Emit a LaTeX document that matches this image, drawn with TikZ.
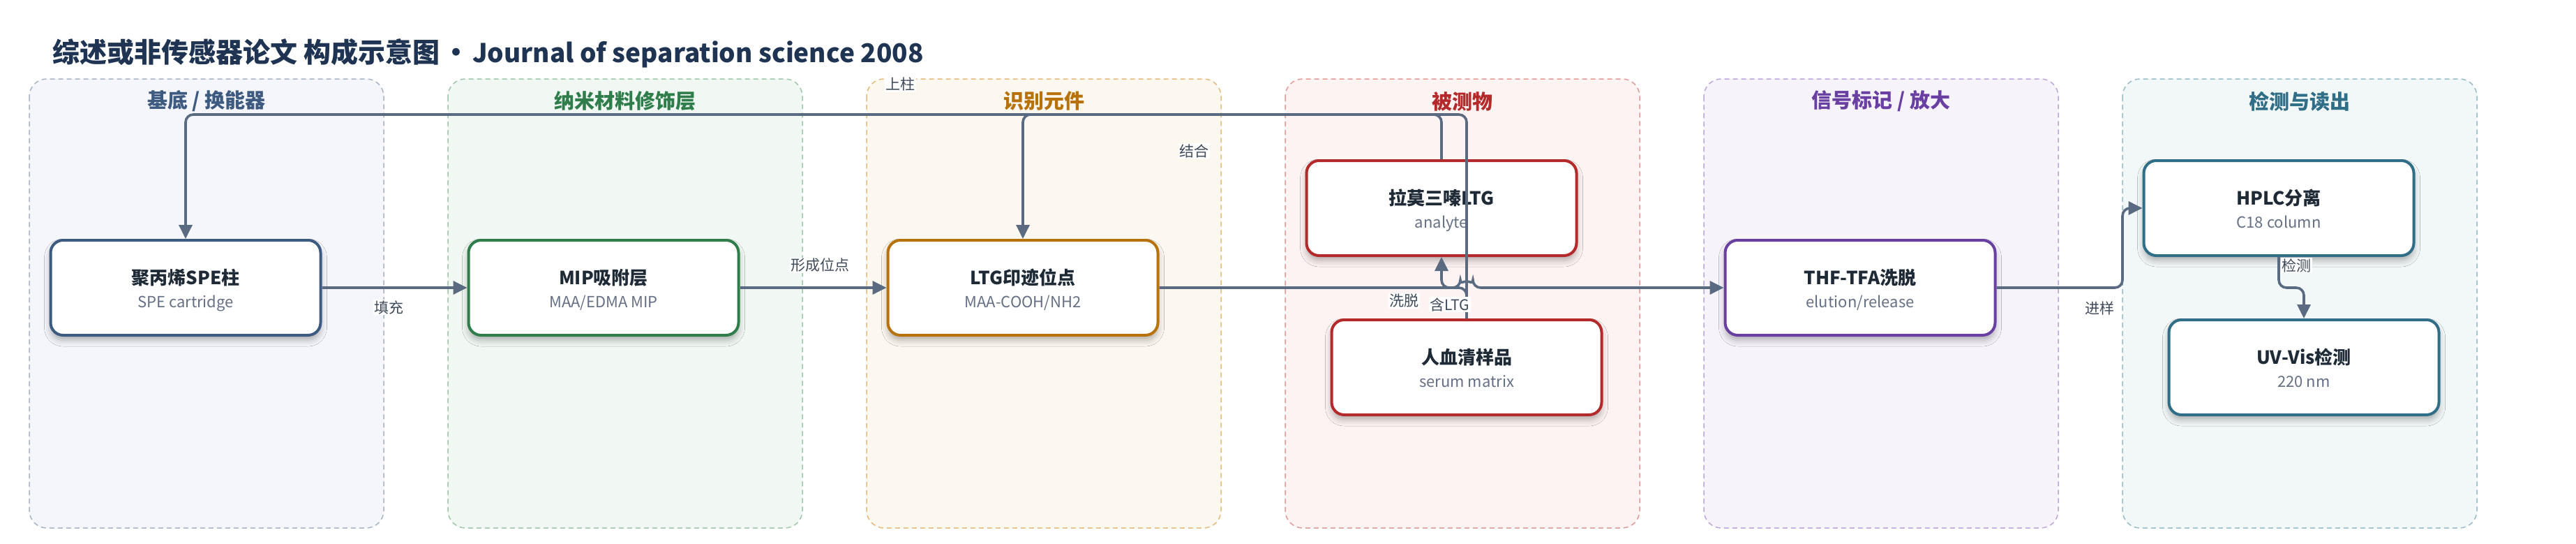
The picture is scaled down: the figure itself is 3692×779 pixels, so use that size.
\documentclass[tikz,border=0pt]{standalone}
\usepackage{fontspec}
\setmainfont{Noto Sans CJK SC}
\usetikzlibrary{arrows.meta,calc,shadows.blur}
\definecolor{titlec}{HTML}{1E3452}
\definecolor{edgec}{HTML}{5A6A80}
\definecolor{labc}{HTML}{3F4A5A}
\definecolor{nodet}{HTML}{1F2A37}
\definecolor{subc}{HTML}{667085}
\definecolor{fA}{HTML}{F4F6FB}\definecolor{bA}{HTML}{A7B4C8}\definecolor{tA}{HTML}{3D5A80}
\definecolor{fB}{HTML}{F1F8F3}\definecolor{bB}{HTML}{9DC7A9}\definecolor{tB}{HTML}{2E7D4A}
\definecolor{fC}{HTML}{FDF8EF}\definecolor{bC}{HTML}{E4BB7A}\definecolor{tC}{HTML}{B7720B}
\definecolor{fD}{HTML}{FDF3F2}\definecolor{bD}{HTML}{E39A96}\definecolor{tD}{HTML}{B42A2A}
\definecolor{fE}{HTML}{F7F3FB}\definecolor{bE}{HTML}{BDA6DC}\definecolor{tE}{HTML}{6A3FA2}
\definecolor{fF}{HTML}{F2F7F8}\definecolor{bF}{HTML}{97BCC9}\definecolor{tF}{HTML}{2F6E86}
\newcommand{\mkbox}[6]{%
  \node[box, draw=#4] (#1) at (#2,#3) {};
  \node[boxtitle, anchor=base] (#1-t) at ($(#1.center)+(0,-5)$) {#5};
  \node[boxsub, anchor=base] (#1-s) at ($(#1.center)+(0,28)$) {#6};
}
\begin{document}
\begin{tikzpicture}[x=1pt,y=-1pt,
  lane/.style={line width=1.5pt, dash pattern=on 7pt off 5pt, rounded corners=25pt},
  lanetitle/.style={font=\fontsize{29}{34}\selectfont\bfseries, inner sep=0pt},
  box/.style={line width=4pt, rounded corners=18pt, fill=white, minimum width=387pt, minimum height=136pt, inner sep=0pt,
    blur shadow={shadow xshift=0pt, shadow yshift=-7pt, shadow blur radius=9pt, shadow opacity=30}},
  boxtitle/.style={font=\fontsize{26}{30}\selectfont\bfseries, text=nodet, inner sep=0pt},
  boxsub/.style={font=\fontsize{22}{26}\selectfont, text=subc, inner sep=0pt},
  conn/.style={draw=edgec, line width=3.6pt, rounded corners=11pt, -{Triangle[length=20pt,width=19pt]}},
  lbl/.style={fill=white, inner sep=1.5pt, text=labc, font=\fontsize{21}{24}\selectfont}]
\useasboundingbox (0,0) rectangle (3692,779);
\fill[white] (0,0) rectangle (3692,779);

\node[anchor=base west, text=titlec, inner sep=0pt, font=\fontsize{39}{45}\selectfont\bfseries] (title) at (75,89)
  {综述或非传感器论文 构成示意图\hspace{4pt}·\hspace{4pt}{\fontsize{37}{45}\selectfont Journal of separation science 2008}};

% lanes
\draw[lane, fill=fA, draw=bA] (42,113) rectangle (550,756);
\draw[lane, fill=fB, draw=bB] (642,113) rectangle (1150,756);
\draw[lane, fill=fC, draw=bC] (1242,113) rectangle (1750,756);
\draw[lane, fill=fD, draw=bD] (1842,113) rectangle (2350,756);
\draw[lane, fill=fE, draw=bE] (2442,113) rectangle (2950,756);
\draw[lane, fill=fF, draw=bF] (3042,113) rectangle (3550,756);
\node[lanetitle, text=tA] (laneA) at (296,145) {基底 / 换能器};
\node[lanetitle, text=tB] (laneB) at (896,145) {纳米材料修饰层};
\node[lanetitle, text=tC] (laneC) at (1496,145) {识别元件};
\node[lanetitle, text=tD] (laneD) at (2096,145) {被测物};
\node[lanetitle, text=tE] (laneE) at (2696,145) {信号标记 / 放大};
\node[lanetitle, text=tF] (laneF) at (3296,145) {检测与读出};

% boxes
\mkbox{spe}{266}{412}{tA}{聚丙烯SPE柱}{SPE cartridge}
\mkbox{mip}{865}{412}{tB}{MIP吸附层}{MAA/EDMA MIP}
\mkbox{ltg}{1466}{412}{tC}{LTG印迹位点}{MAA-COOH/NH2}
\mkbox{ana}{2066}{298}{tD}{拉莫三嗪LTG}{analyte}
\mkbox{serum}{2102}{526}{tD}{人血清样品}{serum matrix}
\mkbox{thf}{2666}{412}{tE}{THF-TFA洗脱}{elution/release}
\mkbox{hplc}{3266}{298}{tF}{HPLC分离}{C18 column}
\mkbox{uv}{3302}{526}{tF}{UV-Vis检测}{220 nm}

% helper coordinates
\coordinate (toprow) at (0,164);
\coordinate (midrow) at (0,412);
\coordinate (hopc) at (2102,412);
\coordinate (jogx) at (3042,0);

% connectors
\draw[conn] (spe.east) -- (mip.west);
\draw[conn] (mip.east) -- (ltg.west);
\draw[conn] (ltg.east) -- ($(hopc)+(-9,0)$) arc[start angle=180, end angle=0, radius=9pt] -- (thf.west);
\draw[conn] (serum.north) -- (serum.north |- toprow) -- (spe.north |- toprow) -- (spe.north);
\draw[conn] (ana.north) -- (ana.north |- toprow) -- (ltg.north |- toprow) -- (ltg.north);
\draw[conn] (serum.north) -- (serum.north |- midrow) -- (ana.south |- midrow) -- (ana.south);
\draw[conn] (thf.east) -- (thf.east -| jogx) |- (hplc.west);
\draw[conn] (hplc.south) -- (hplc.south |- midrow) -- (uv.north |- midrow) -- (uv.north);

% labels
\node[lbl] (l1) at (557,440) {填充};
\node[lbl] (l2) at (1175,380) {形成位点};
\node[lbl] (l3) at (1290,121) {上柱};
\node[lbl] (l4) at (1711,216) {结合};
\node[lbl] (l5) at (2012,431) {洗脱};
\node[lbl] (l6) at (2078,436) {含LTG};
\node[lbl] (l7) at (3009,441) {进样};
\node[lbl] (l8) at (3291,380) {检测};
\end{tikzpicture}
\end{document}
